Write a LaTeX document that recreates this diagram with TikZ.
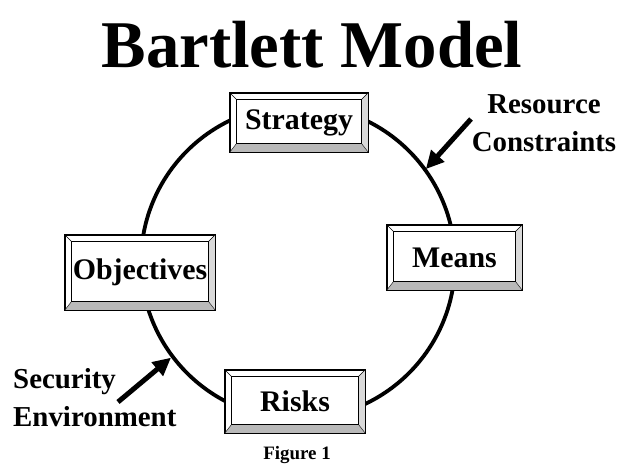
\documentclass[tikz,border=0pt]{standalone}
\usepackage{fontspec}
\setmainfont{Liberation Serif}
\usetikzlibrary{arrows.meta}

\tikzset{
  box/.style={draw, thick, fill=white, inner sep=0pt,
              font=\fontsize{30}{32}\selectfont\bfseries},
  tag/.style={font=\fontsize{29}{38}\selectfont\bfseries, inner sep=0pt},
  pointer/.style={line width=5bp, -{Triangle[length=18bp,width=17bp]}}
}

% bevelled frame round a box
\newcommand{\bevel}[1]{%
  \fill[gray!55] (#1.south west) -- (#1.south east) -- ([shift={(-7,9)}]#1.south east)
                 -- ([shift={(7,9)}]#1.south west) -- cycle;
  \fill[gray!30] (#1.south east) -- (#1.north east) -- ([shift={(-7,-7)}]#1.north east)
                 -- ([shift={(-7,9)}]#1.south east) -- cycle;
  \draw (#1.south west) -- ([shift={(7,9)}]#1.south west);
  \draw (#1.south east) -- ([shift={(-7,9)}]#1.south east);
  \draw (#1.north east) -- ([shift={(-7,-7)}]#1.north east);
  \draw (#1.north west) -- ([shift={(7,-7)}]#1.north west);
  \draw[thick] ([shift={(7,9)}]#1.south west) rectangle ([shift={(-7,-7)}]#1.north east);
  \draw[thick] (#1.south west) rectangle (#1.north east);
}

\begin{document}
\begin{tikzpicture}[x=1bp,y=1bp]
    \useasboundingbox (0,0) rectangle (621,468);

    % Titel
    \node[font=\fontsize{67}{70}\selectfont\bfseries, anchor=base] (title) at (312,400) {Bartlett Model};

    % Kreis
    \coordinate (c) at (298,206);
    \draw[line width=3.8bp] (c) circle[radius=157];

    % Kaesten
    \node[box, minimum width=138bp, minimum height=59bp] (strategy) at (299,345.5) {Strategy};
    \bevel{strategy}
    \node[box, minimum width=150bp, minimum height=75bp] (objectives) at (140,195.5) {Objectives};
    \bevel{objectives}
    \node[box, minimum width=135bp, minimum height=65bp] (means) at (454.5,210.5) {Means};
    \bevel{means}
    \node[box, minimum width=140bp, minimum height=63bp] (risks) at (295,66.5) {Risks};
    \bevel{risks}

    % Pfeile
    \node[tag, align=center] (resource) at (544,345) {Resource\\Constraints};
    \coordinate (rtail) at (471,349);
    \coordinate (rtip) at ([shift={(36:158)}]c);
    \draw[pointer] (rtail) -- (rtip);

    \node[tag, align=left, anchor=west] (security) at (13,70) {Security\\Environment};
    \coordinate (stail) at (118,66);
    \coordinate (stip) at ([shift={(217:159)}]c);
    \draw[pointer] (stail) -- (stip);

    \node[font=\fontsize{19}{21}\selectfont\bfseries, anchor=base] (figure) at (297,8) {Figure 1};
\end{tikzpicture}
\end{document}
